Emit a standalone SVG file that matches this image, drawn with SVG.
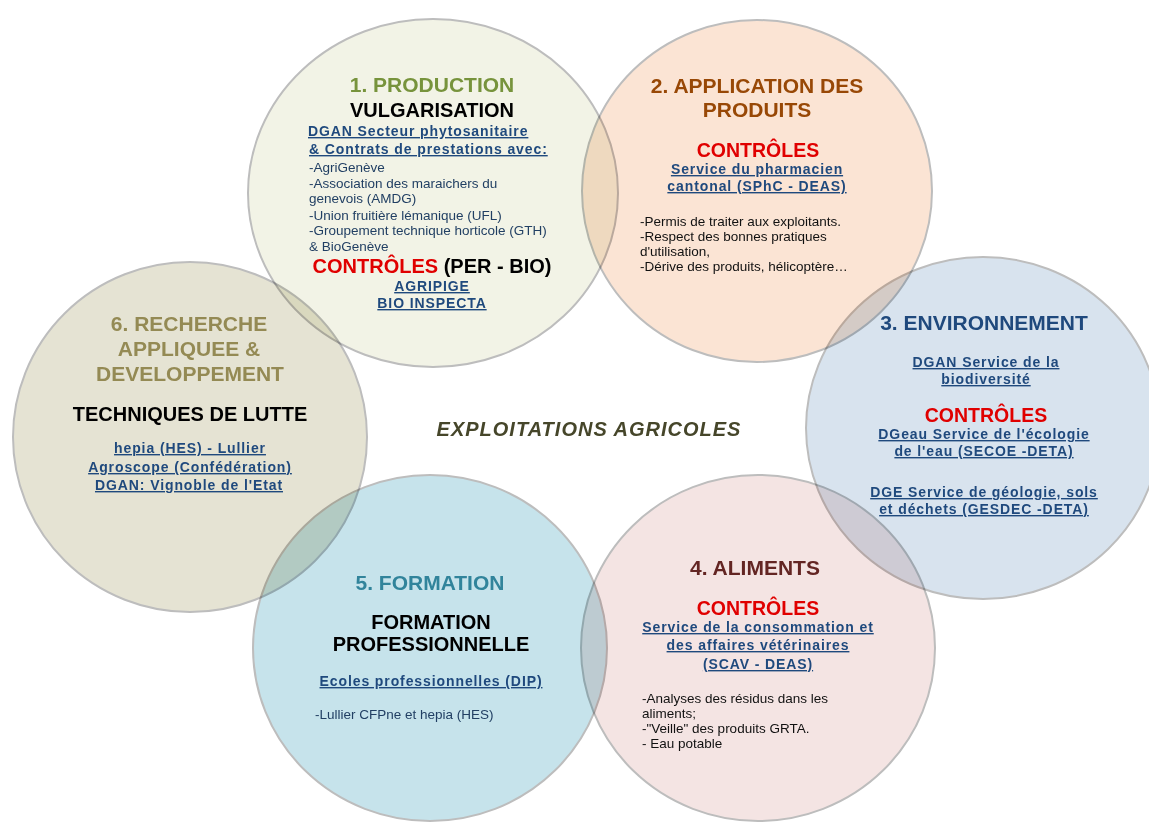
<svg xmlns="http://www.w3.org/2000/svg" width="1149" height="823" viewBox="0 0 1149 823">
<style>
text{font-family:"Liberation Sans",Arial,sans-serif}
.disc{stroke:#bdbdbd;stroke-width:2;mix-blend-mode:multiply}
.t{font-size:21px;font-weight:bold;text-anchor:middle}
.s{font-size:20px;font-weight:bold;text-anchor:middle;fill:#000}
.c{font-size:19.5px;font-weight:bold;text-anchor:middle;fill:#e00000}
.u{font-size:14px;font-weight:bold;fill:#1f497d;text-decoration:underline;letter-spacing:0.9px}
.m{text-anchor:middle}
.lb{font-size:13.5px;fill:#213f63}
.lk{font-size:13.5px;fill:#111}
</style>
<rect width="1149" height="823" fill="#fff"/>
<g id="node1">
<ellipse class="disc" cx="433" cy="193" rx="185" ry="174" fill="#f2f3e6"/>
<text class="t" x="432" y="92" fill="#77933c">1. PRODUCTION</text>
<text class="s" x="432" y="117">VULGARISATION</text>
<text class="u" x="308" y="136">DGAN Secteur phytosanitaire</text>
<text class="u" x="309" y="154">&amp; Contrats de prestations avec:</text>
<text class="lb" x="309" y="171.5">-AgriGenève</text>
<text class="lb" x="309" y="187.5">-Association des maraichers du</text>
<text class="lb" x="309" y="203">genevois (AMDG)</text>
<text class="lb" x="309" y="219.5">-Union fruitière lémanique (UFL)</text>
<text class="lb" x="309" y="235">-Groupement technique horticole (GTH)</text>
<text class="lb" x="309" y="251">&amp; BioGenève</text>
<text class="s" x="432" y="273"><tspan fill="#e00000">CONTRÔLES</tspan> (PER - BIO)</text>
<text class="u m" x="432" y="291">AGRIPIGE</text>
<text class="u m" x="432" y="308">BIO INSPECTA</text>
</g>
<g id="node2">
<ellipse class="disc" cx="757" cy="191" rx="175" ry="171" fill="#fbe4d4"/>
<text class="t" x="757" y="93" fill="#984806">2. APPLICATION DES</text>
<text class="t" x="757" y="117" fill="#984806">PRODUITS</text>
<text class="c" x="758" y="157">CONTRÔLES</text>
<text class="u m" x="757" y="174">Service du pharmacien</text>
<text class="u m" x="757" y="191">cantonal (SPhC - DEAS)</text>
<text class="lk" x="640" y="226">-Permis de traiter aux exploitants.</text>
<text class="lk" x="640" y="241">-Respect des bonnes pratiques</text>
<text class="lk" x="640" y="256">d'utilisation,</text>
<text class="lk" x="640" y="271">-Dérive des produits, hélicoptère…</text>
</g>
<g id="node3">
<ellipse class="disc" cx="983" cy="428" rx="177" ry="171" fill="#d8e3ee"/>
<text class="t" x="984" y="330" fill="#1f497d">3. ENVIRONNEMENT</text>
<text class="u m" x="986" y="367">DGAN Service de la</text>
<text class="u m" x="986" y="384">biodiversité</text>
<text class="c" x="986" y="422">CONTRÔLES</text>
<text class="u m" x="984" y="439">DGeau Service de l'écologie</text>
<text class="u m" x="984" y="456">de l'eau (SECOE -DETA)</text>
<text class="u m" x="984" y="497">DGE Service de géologie, sols</text>
<text class="u m" x="984" y="514">et déchets (GESDEC -DETA)</text>
</g>
<g id="node4">
<ellipse class="disc" cx="758" cy="648" rx="177" ry="173" fill="#f4e4e3"/>
<text class="t" x="755" y="575" fill="#632523">4. ALIMENTS</text>
<text class="c" x="758" y="615">CONTRÔLES</text>
<text class="u m" x="758" y="632">Service de la consommation et</text>
<text class="u m" x="758" y="650">des affaires vétérinaires</text>
<text class="u m" x="758" y="669">(SCAV - DEAS)</text>
<text class="lk" x="642" y="703">-Analyses des résidus dans les</text>
<text class="lk" x="642" y="718">aliments;</text>
<text class="lk" x="642" y="733">-"Veille" des produits GRTA.</text>
<text class="lk" x="642" y="748">- Eau potable</text>
</g>
<g id="node5">
<ellipse class="disc" cx="430" cy="648" rx="177" ry="173" fill="#c6e3eb"/>
<text class="t" x="430" y="590" fill="#31849b">5. FORMATION</text>
<text class="s" x="431" y="629">FORMATION</text>
<text class="s" x="431" y="651">PROFESSIONNELLE</text>
<text class="u m" x="431" y="686">Ecoles professionnelles (DIP)</text>
<text class="lb" x="315" y="719">-Lullier CFPne et hepia (HES)</text>
</g>
<g id="node6">
<ellipse class="disc" cx="190" cy="437" rx="177" ry="175" fill="#e5e3d3"/>
<text class="t" x="189" y="331" fill="#948a54">6. RECHERCHE</text>
<text class="t" x="189" y="356" fill="#948a54">APPLIQUEE &amp;</text>
<text class="t" x="190" y="381" fill="#948a54">DEVELOPPEMENT</text>
<text class="s" x="190" y="421">TECHNIQUES DE LUTTE</text>
<text class="u m" x="190" y="453">hepia (HES) - Lullier</text>
<text class="u m" x="190" y="472">Agroscope (Confédération)</text>
<text class="u m" x="189" y="490">DGAN: Vignoble de l'Etat</text>
</g>
<g id="center">
<text x="589" y="436" text-anchor="middle" font-size="20" font-weight="bold" font-style="italic" letter-spacing="1" fill="#46462a">EXPLOITATIONS AGRICOLES</text>
</g>
<g id="connectors"/>
</svg>
